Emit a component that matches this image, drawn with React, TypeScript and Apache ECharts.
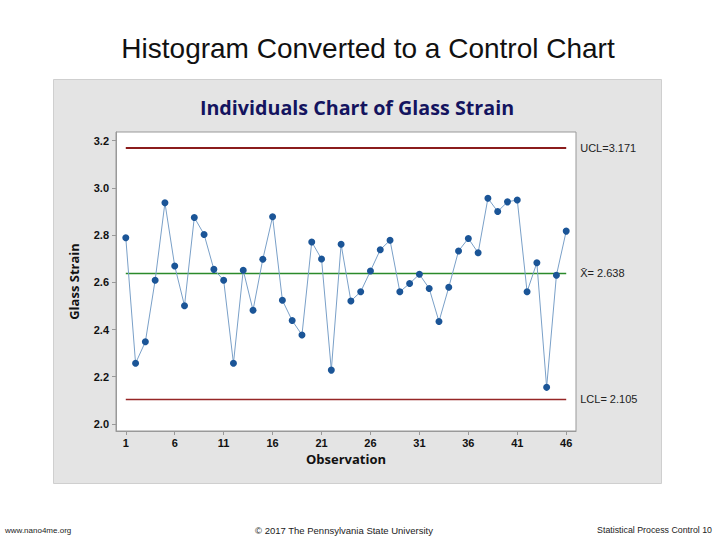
import React, { useEffect, useRef } from "react";
import * as echarts from "echarts";

// Glass strain per observation
const observations: number[] = Array.from({ length: 46 }, (_, i) => i + 1);
const glassStrain: number[] = [
  2.789, 2.257, 2.348, 2.609, 2.937, 2.669, 2.501, 2.875, 2.803, 2.655,
  2.609, 2.257, 2.651, 2.482, 2.698, 2.878, 2.524, 2.438, 2.377, 2.771,
  2.699, 2.228, 2.761, 2.521, 2.560, 2.648, 2.738, 2.778, 2.560, 2.595,
  2.634, 2.574, 2.434, 2.579, 2.733, 2.786, 2.725, 2.956, 2.900, 2.941,
  2.949, 2.560, 2.683, 2.155, 2.630, 2.817,
];
const xTicks: number[] = [1, 6, 11, 16, 21, 26, 31, 36, 41, 46];
const yTicks: number[] = [2.0, 2.2, 2.4, 2.6, 2.8, 3.0, 3.2];
const ucl = 3.171;
const centerLine = 2.638;
const lcl = 2.105;

const App: React.FC = () => {
  const chartRef = useRef<HTMLDivElement | null>(null);

  useEffect(() => {
    if (!chartRef.current) return;
    document.body.style.margin = "0";
    const chart = echarts.init(chartRef.current, undefined, { renderer: "svg" });

    const limitLine = (value: number, label: string, color: string, width: number) => ({
      silent: true,
      symbol: "none",
      lineStyle: { color, width, type: "solid", opacity: 1 },
      label: {
        show: true,
        position: "end",
        distance: 14,
        formatter: label,
        color: "#222",
        fontSize: 11,
        fontFamily: "Liberation Sans",
      },
      data: [[{ coord: [1, value] }, { coord: [46, value] }]],
    });

    const option: echarts.EChartsOption = {
      animation: false,
      backgroundColor: "#ffffff",
      graphic: [
        {
          type: "rect",
          z: -10,
          shape: { x: 53.5, y: 79.5, width: 608, height: 404 },
          style: { fill: "#e4e4e4", stroke: "#cfcfcf", lineWidth: 1 },
        },
        {
          type: "text",
          left: 5,
          top: 526,
          style: { text: "www.nano4me.org", fontSize: 8, fontFamily: "Liberation Sans", fill: "#222" },
        },
        {
          type: "text",
          left: 255,
          top: 525,
          style: {
            text: "© 2017 The Pennsylvania State University",
            fontSize: 9.5,
            fontFamily: "Liberation Sans",
            fill: "#222",
          },
        },
        {
          type: "text",
          right: 8,
          top: 525,
          style: {
            text: "Statistical Process Control 10",
            fontSize: 8.8,
            fontFamily: "Liberation Sans",
            fill: "#222",
          },
        },
      ],
      title: [
        {
          text: "Histogram Converted to a Control Chart",
          left: 363,
          textAlign: "center",
          top: 29,
          textStyle: { fontSize: 28, fontWeight: "normal", color: "#111", fontFamily: "Liberation Sans" },
        },
        {
          text: "Individuals Chart of Glass Strain",
          left: 352,
          textAlign: "center",
          top: 92,
          textStyle: { fontSize: 19.7, fontWeight: "bold", color: "#14145f", fontFamily: "Open Sans" },
        },
      ],
      grid: { left: 116, top: 132, right: 144, bottom: 109, show: true, backgroundColor: "#fff", borderColor: "#999", borderWidth: 1 },
      xAxis: {
        type: "value",
        min: 0,
        max: 47,
        name: "Observation",
        nameLocation: "middle",
        nameGap: 20,
        nameTextStyle: { fontSize: 13, fontWeight: "bold", color: "#111", fontFamily: "Open Sans" },
        axisLine: { show: true, lineStyle: { color: "#999" } },
        axisTick: { show: true, customValues: xTicks, length: 4, lineStyle: { color: "#999" } },
        axisLabel: {
          customValues: xTicks,
          margin: 6,
          fontSize: 11,
          fontWeight: "bold",
          color: "#111",
          fontFamily: "Liberation Sans",
        },
        splitLine: { show: false },
      },
      yAxis: {
        type: "value",
        min: 1.97,
        max: 3.237,
        name: "Glass Strain",
        nameLocation: "middle",
        nameGap: 36,
        nameTextStyle: { fontSize: 13, fontWeight: "bold", color: "#111", fontFamily: "Open Sans" },
        axisLine: { show: true, lineStyle: { color: "#999" } },
        axisTick: { show: true, customValues: yTicks, length: 4, lineStyle: { color: "#999" } },
        axisLabel: {
          customValues: yTicks,
          formatter: (v: number) => v.toFixed(1),
          margin: 7,
          fontSize: 11,
          fontWeight: "bold",
          color: "#111",
          fontFamily: "Liberation Sans",
        },
        splitLine: { show: false },
      },
      series: [
        {
          name: "UCL",
          type: "line",
          data: [],
          markLine: limitLine(ucl, "UCL=3.171", "#8b1c1c", 2),
        },
        {
          name: "CL",
          type: "line",
          data: [],
          markLine: limitLine(centerLine, "X\u0304= 2.638", "#2b8a2b", 1.4),
        },
        {
          name: "LCL",
          type: "line",
          data: [],
          markLine: limitLine(lcl, "LCL= 2.105", "#962626", 1.4),
        },
        {
          name: "Glass Strain",
          type: "line",
          data: observations.map((o, i) => [o, glassStrain[i]]),
          symbol: "circle",
          symbolSize: 7,
          itemStyle: { color: "#1b5597" },
          lineStyle: { color: "#7aa0c8", width: 1 },
          z: 5,
        },
      ],
    };

    chart.setOption(option);
    return () => {
      chart.dispose();
    };
  }, []);

  return <div ref={chartRef} style={{ width: "720px", height: "540px" }} />;
};

export default App;
